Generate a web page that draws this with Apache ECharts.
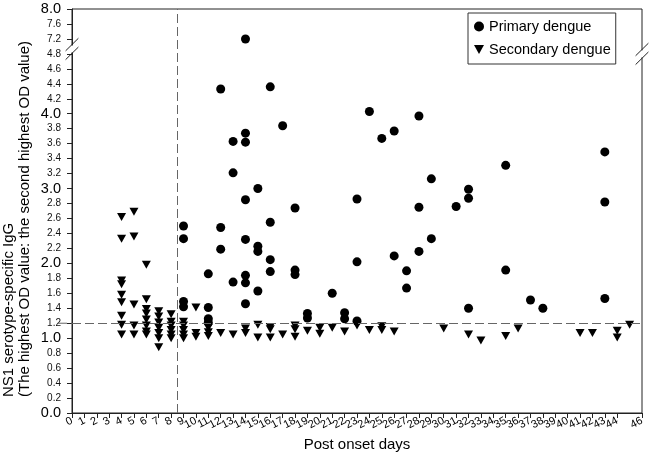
<!DOCTYPE html>
<html><head><meta charset="utf-8">
<script src="https://cdn.jsdelivr.net/npm/echarts@6/dist/echarts.min.js"></script>
<style>html,body{margin:0;padding:0;background:#fff}#c{width:649px;height:454px}</style>
</head><body><div id="c"></div>
<script>
// ---- data: [post onset day, OD ratio] ----
const primaryDengue = [
  [9,2.50],[9,2.33],[9,1.49],[9,1.42],
  [11,1.86],[11,1.41],[11,1.26],[11,1.21],
  [12,4.33],[12,2.48],[12,2.19],
  [13,3.63],[13,3.21],[13,1.75],
  [14,7.18],[14,3.74],[14,3.62],[14,2.85],[14,2.32],[14,1.84],[14,1.74],[14,1.46],
  [15,3.00],[15,2.23],[15,2.16],[15,1.63],
  [16,4.36],[16,2.55],[16,2.05],[16,1.89],
  [17,3.84],
  [18,2.74],[18,1.91],[18,1.85],
  [19,1.33],[19,1.27],
  [21,1.60],
  [22,1.34],[22,1.26],
  [23,2.86],[23,2.02],[23,1.23],
  [24,4.03],
  [25,3.67],
  [26,3.77],[26,2.10],
  [27,1.90],[27,1.67],
  [28,3.97],[28,2.75],[28,2.16],
  [29,3.13],[29,2.33],
  [31,2.76],
  [32,2.99],[32,2.87],[32,1.40],
  [35,3.31],[35,1.91],
  [37,1.51],
  [38,1.40],
  [43,3.49],[43,2.82],[43,1.53]
];
const secondaryDengue = [
  [4,2.62],[4,2.33],[4,1.77],[4,1.72],[4,1.58],[4,1.48],[4,1.30],[4,1.18],[4,1.05],
  [5,2.69],[5,2.36],[5,1.45],[5,1.17],[5,1.05],
  [6,1.98],[6,1.52],[6,1.39],[6,1.33],[6,1.25],[6,1.17],[6,1.09],[6,1.05],
  [7,1.36],[7,1.29],[7,1.21],[7,1.14],[7,1.07],[7,1.00],[7,0.88],
  [8,1.32],[8,1.22],[8,1.17],[8,1.11],[8,1.05],[8,1.00],
  [9,1.22],[9,1.17],[9,1.11],[9,1.05],[9,1.00],
  [10,1.41],[10,1.07],[10,1.02],
  [11,1.14],[11,1.08],[11,1.03],
  [12,1.07],[13,1.05],
  [14,1.13],[14,1.07],
  [15,1.18],[15,1.01],
  [16,1.15],[16,1.12],[16,1.01],
  [17,1.05],
  [18,1.17],[18,1.12],[18,1.02],
  [19,1.10],
  [20,1.14],[20,1.06],
  [21,1.14],[22,1.09],[23,1.17],[24,1.11],
  [25,1.16],[25,1.11],
  [26,1.09],[30,1.13],[32,1.05],[33,0.97],[35,1.03],[36,1.13],
  [41,1.07],[42,1.07],
  [44,1.10],[44,1.01],
  [45,1.18]
];
const cutoffOD = 1.2;
const cutoffDay = 8.5;
const dayMax = 46;
const yMajorLabels = ['0.0','1.0','2.0','3.0','4.0','8.0'];
// broken axis: [0,4.8] linear, gap, [7.2,8.0] at half scale
const breakLow = 4.8, breakHigh = 7.2, gapT = 0.2, upperScale = 0.5;

function toT(y){
  if (y <= breakLow) return y;
  if (y >= breakHigh) return breakLow + gapT + (y - breakHigh) * upperScale;
  return breakLow + (y - breakLow) / (breakHigh - breakLow) * gapT;
}
function fromT(t){
  if (t <= breakLow + 1e-9) return t;
  return breakHigh + (t - breakLow - gapT) / upperScale;
}
const tMax = toT(8.0);

const FONT = '"Liberation Sans", Arial, sans-serif';
const triPath = 'path://M0,0L10,0L5,9Z';
const AX = '#222';

const chart = echarts.init(document.getElementById('c'), null, {renderer:'canvas'});

const titleEls = [
  {type:'text', x:9, y:397, rotation:Math.PI/2,
   style:{text:'NS1 serotype-specific IgG', font:'15px '+FONT, fill:'#000',
          textAlign:'left', textVerticalAlign:'middle', align:'left', verticalAlign:'middle'}},
  {type:'text', x:25, y:397, rotation:Math.PI/2,
   style:{text:'(The highest OD value: the second highest OD value)', font:'15px '+FONT, fill:'#000',
          textAlign:'left', textVerticalAlign:'middle', align:'left', verticalAlign:'middle'}}
];

const option = {
  animation:false,
  backgroundColor:'#fff',
  grid:{left:72, right:7, top:9, bottom:41, show:true, borderColor:AX, borderWidth:1,
        backgroundColor:'transparent', containLabel:false, outerBoundsMode:'none'},
  legend:{
    orient:'vertical', left:468, top:13, padding:[6,5,7,6], itemGap:8,
    itemWidth:10, itemHeight:10, borderColor:'#333', borderWidth:1, backgroundColor:'#fff',
    textStyle:{fontSize:14.5, color:'#000', fontFamily:FONT},
    data:[{name:'Primary dengue', icon:'circle'},{name:'Secondary dengue', icon:triPath}]
  },
  xAxis:{
    type:'value', min:0, max:dayMax, interval:1,
    name:'Post onset days', nameLocation:'middle', nameGap:21,
    nameTextStyle:{fontSize:15, color:'#000', fontFamily:FONT},
    axisLine:{show:true, lineStyle:{color:AX}},
    axisTick:{show:true, length:5, lineStyle:{color:AX}},
    axisLabel:{fontSize:11, color:'#000', rotate:28, margin:7, fontFamily:FONT, showMinLabel:true, showMaxLabel:true},
    splitLine:{show:false}
  },
  yAxis:{
    type:'value', min:0, max:tMax, interval:0.2,
    axisLine:{show:true, lineStyle:{color:AX}},
    axisTick:{show:true, length:5, lineStyle:{color:AX}},
    axisLabel:{
      margin:11, color:'#111', fontFamily:FONT, showMaxLabel:true,
      formatter:function(v){
        const d = (Math.round(fromT(v)*10)/10).toFixed(1);
        return yMajorLabels.indexOf(d) >= 0 ? '{big|'+d+'}' : '{small|'+d+'}';
      },
      rich:{big:{fontSize:14.5, fontFamily:FONT, color:'#000'}, small:{fontSize:10, fontFamily:FONT, color:'#111'}}
    },
    splitLine:{show:false}
  },
  graphic:{elements:titleEls},
  series:[
    {
      name:'Primary dengue', type:'scatter', symbol:'circle', symbolSize:9,
      itemStyle:{color:'#000', opacity:1},
      data: primaryDengue.map(p => [p[0], toT(p[1])]),
      markLine:{
        silent:true, symbol:['none','none'], label:{show:false},
        lineStyle:{color:'#666', width:1, type:[9,4]},
        emphasis:{disabled:true},
        data:[
          [{coord:[0, toT(cutoffOD)]},{coord:[dayMax, toT(cutoffOD)]}],
          [{coord:[cutoffDay, 0]},{coord:[cutoffDay, tMax]}]
        ]
      },
      z:3
    },
    {
      name:'Secondary dengue', type:'scatter', symbol:triPath, symbolSize:[9,8],
      itemStyle:{color:'#000', opacity:1},
      data: secondaryDengue.map(p => [p[0], toT(p[1])]),
      z:3
    }
  ]
};
chart.setOption(option);

// break marks on left and right axes, and the cutoff line's short extension left of the axis
function breakMarks(px, py){
  const els = [];
  els.push({type:'rect', shape:{x:px-3, y:py-3.5, width:6, height:7}, style:{fill:'#fff'}, z:100});
  [-4.4, 4.4].forEach(o => {
    els.push({type:'line', shape:{x1:px-6.4, y1:py+o+6.3, x2:px+6.4, y2:py+o-6.3},
      style:{stroke:AX, lineWidth:1}, z:101});
  });
  return els;
}
const pl = chart.convertToPixel({gridIndex:0}, [0, 4.866]);
const pr = chart.convertToPixel({gridIndex:0}, [dayMax, 4.8]);
const pc = chart.convertToPixel({gridIndex:0}, [0, toT(cutoffOD)]);
const ext = {type:'line', shape:{x1:pc[0]-14, y1:pc[1], x2:pc[0], y2:pc[1]},
  style:{stroke:'#666', lineWidth:1, lineDash:[9,4]}, z:50};
chart.setOption({graphic:{elements: titleEls.concat(breakMarks(pl[0], pl[1]), breakMarks(pr[0], pr[1]), [ext])}});
</script></body></html>
